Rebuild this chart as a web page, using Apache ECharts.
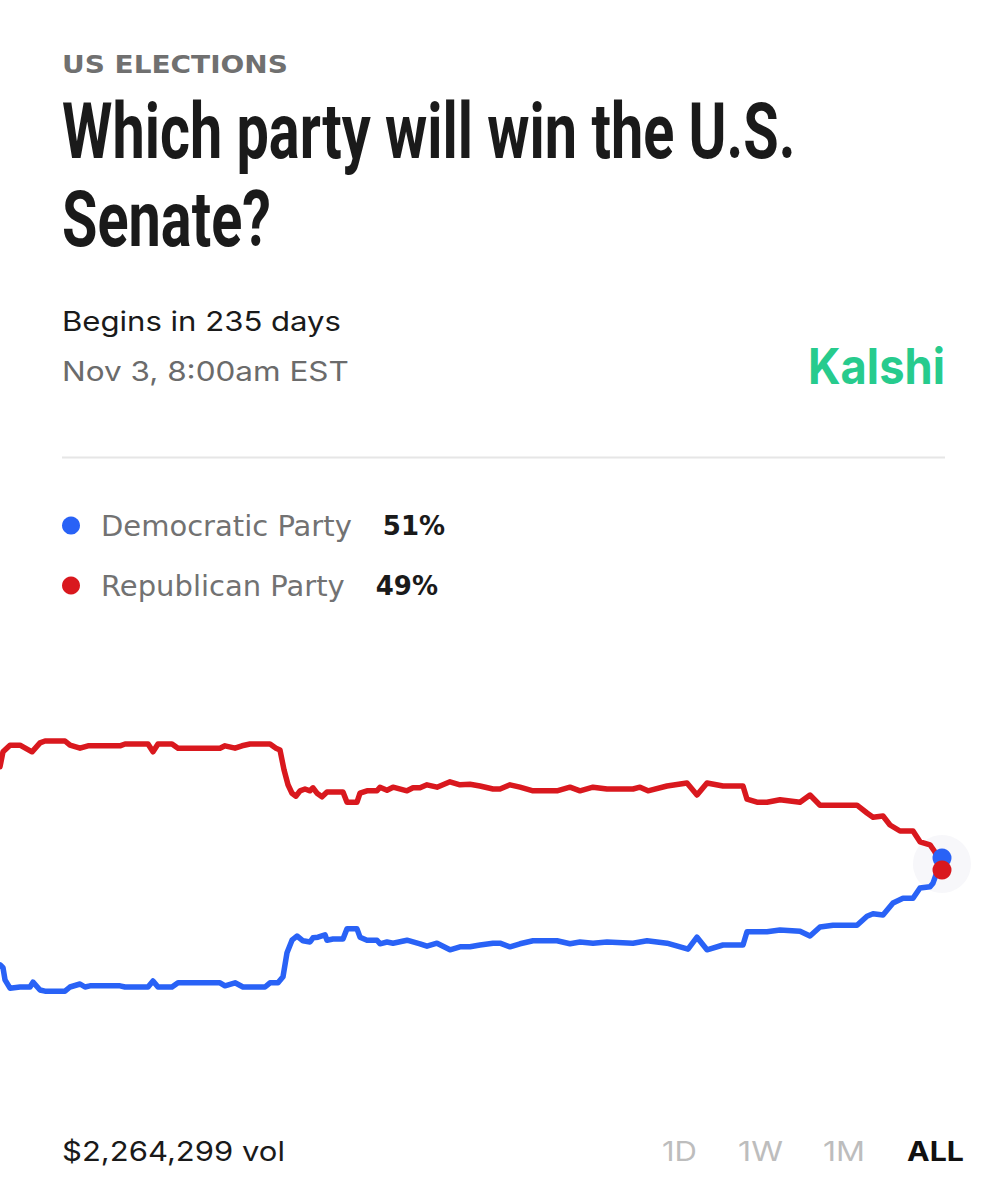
<!DOCTYPE html>
<html>
<head>
<meta charset="utf-8">
<script src="https://cdn.jsdelivr.net/npm/echarts@6/dist/echarts.min.js"></script>
<style>
  html, body { margin: 0; padding: 0; background: #ffffff; }
  #chart { width: 1006px; height: 1200px; }
</style>
</head>
<body>
<div id="chart"></div>
<script>
// ---- Data ----
const seriesNames = ['Democratic Party', 'Republican Party'];

const repTime = [0, 3, 10, 20, 32, 40, 45, 65, 70, 80, 88, 120, 125, 148, 153, 158, 172, 178, 220, 225, 235, 242, 250, 270, 276, 280, 284, 288, 292, 296, 300, 305, 310, 313, 317, 322, 327, 333, 343, 347, 357, 360, 367, 377, 380, 387, 393, 407, 413, 420, 427, 437, 450, 460, 470, 480, 493, 500, 510, 520, 533, 557, 570, 580, 593, 607, 633, 640, 648, 667, 687, 697, 707, 723, 743, 747, 757, 767, 780, 800, 810, 820, 833, 857, 867, 873, 883, 890, 900, 913, 920, 930, 935, 942];
const repPct = [66.2, 68.7, 69.8, 69.8, 68.7, 70.2, 70.5, 70.5, 69.8, 69.3, 69.7, 69.7, 70.0, 70.0, 68.7, 70.0, 70.0, 69.3, 69.3, 69.7, 69.3, 69.7, 70.0, 70.0, 69.3, 69.0, 65.7, 63.2, 61.8, 61.3, 62.2, 62.5, 62.2, 62.7, 61.8, 61.2, 62.0, 62.0, 62.0, 60.3, 60.3, 61.8, 62.2, 62.2, 62.8, 62.3, 62.8, 62.2, 62.7, 62.7, 63.2, 62.8, 63.7, 63.2, 63.3, 63.0, 62.5, 62.5, 63.2, 62.8, 62.2, 62.2, 62.8, 62.2, 62.8, 62.5, 62.5, 62.8, 62.2, 63.0, 63.5, 61.5, 63.5, 63.0, 63.0, 60.8, 60.3, 60.3, 60.7, 60.3, 61.5, 59.8, 59.8, 59.8, 58.5, 57.8, 58.0, 56.5, 55.5, 55.5, 53.7, 53.2, 52.0, 49.0];

const demTime = [0, 3, 5, 10, 20, 30, 33, 40, 45, 65, 70, 80, 85, 90, 120, 125, 148, 153, 158, 172, 178, 220, 225, 235, 243, 265, 270, 278, 283, 287, 292, 297, 303, 310, 313, 318, 325, 327, 333, 343, 347, 357, 360, 367, 377, 380, 387, 393, 407, 420, 427, 437, 450, 460, 470, 480, 493, 500, 510, 520, 533, 557, 570, 580, 593, 607, 633, 647, 667, 688, 697, 707, 723, 743, 747, 767, 780, 800, 810, 820, 833, 857, 867, 873, 883, 893, 903, 913, 920, 930, 933, 942];
const demPct = [33.2, 32.7, 30.7, 29.3, 29.5, 29.5, 30.3, 29.0, 28.8, 28.8, 29.5, 30.0, 29.5, 29.7, 29.7, 29.5, 29.5, 30.5, 29.5, 29.5, 30.2, 30.2, 29.7, 30.2, 29.5, 29.5, 30.2, 30.2, 31.2, 35.2, 37.3, 38.0, 37.2, 37.0, 37.7, 37.8, 38.2, 37.3, 37.5, 37.5, 39.2, 39.2, 37.8, 37.3, 37.3, 36.7, 37.0, 36.8, 37.3, 36.7, 36.3, 36.8, 35.7, 36.2, 36.2, 36.5, 36.8, 36.8, 36.2, 36.7, 37.2, 37.2, 36.7, 37.0, 36.8, 37.0, 36.8, 37.2, 36.8, 35.8, 37.8, 35.7, 36.5, 36.5, 38.7, 38.7, 39.0, 38.8, 38.0, 39.5, 39.8, 39.8, 41.3, 41.7, 41.5, 43.5, 44.3, 44.3, 46.0, 46.2, 46.8, 51.0];

const volumeText = '$2,264,299 vol';
const rangeTabs = ['1D', '1W', '1M', 'ALL'];

// ---- Styles ----
const BLUE = '#2962f6';
const RED = '#d9181e';
const GREEN = '#27cb8d';

function fit(text, font, targetWidth) {
  const ctx = document.createElement('canvas').getContext('2d');
  ctx.font = font;
  return targetWidth / ctx.measureText(text).width;
}
function txt(text, x, y, font, fill, width, align) {
  const s = width ? fit(text, font, width) : 1;
  return {
    type: 'text', x: x, y: y, scaleX: s, scaleY: 1,
    style: { text: text, font: font, fill: fill,
             align: align || 'left', textAlign: align || 'left',
             verticalAlign: 'middle', textVerticalAlign: 'middle' }
  };
}

const demLast = demPct[demPct.length - 1];
const repLast = repPct[repPct.length - 1];
const lastPct = { 'Democratic Party': Math.round(demLast), 'Republican Party': Math.round(repLast) };

const titleFont = 'bold 77px Roboto';
const titleScale = fit('Which party will win the U.S.', titleFont, 733);

const chart = echarts.init(document.getElementById('chart'), null, { renderer: 'svg', width: 1006, height: 1200 });

const tabFont = '27px Inter';
const tabFontBold = 'bold 27px Inter';

chart.setOption({
  animation: false,
  backgroundColor: '#ffffff',
  grid: { left: 0, right: 64, top: 684, height: 360, containLabel: false },
  xAxis: {
    type: 'value', min: 0, max: 942,
    axisLine: { show: false }, axisTick: { show: false },
    axisLabel: { show: false }, splitLine: { show: false }
  },
  yAxis: {
    type: 'value', min: 20, max: 80,
    axisLine: { show: false }, axisTick: { show: false },
    axisLabel: { show: false }, splitLine: { show: false }
  },
  legend: {
    orient: 'vertical', left: 62, top: 511, padding: 0,
    itemWidth: 18, itemHeight: 18, itemGap: 31,
    icon: 'circle', selectedMode: false,
    data: seriesNames,
    formatter: function (name) { return '{n|' + name + '}{p|' + lastPct[name] + '%}'; },
    textStyle: {
      rich: {
        n: { fontFamily: 'DejaVu Sans', fontSize: 29, color: '#727272', lineHeight: 32, padding: [0, 0, 0, 16] },
        p: { fontFamily: 'DejaVu Sans', fontSize: 26, fontWeight: 'bold', color: '#1a1a1a', lineHeight: 32, padding: [0, 0, 0, 31] }
      }
    }
  },
  series: [
    {
      name: 'halo', type: 'scatter', z: 1, silent: true,
      data: [[demTime[demTime.length - 1], (demLast + repLast) / 2]],
      symbolSize: 58, itemStyle: { color: 'rgba(170,170,200,0.09)', opacity: 1 }
    },
    {
      name: 'Democratic Party', type: 'line', z: 3,
      data: demTime.map((t, i) => [t, demPct[i]]),
      showSymbol: false, symbol: 'none',
      lineStyle: { width: 5.5, color: BLUE, cap: 'round', join: 'round' },
      itemStyle: { color: BLUE }
    },
    {
      name: 'Republican Party', type: 'line', z: 3,
      data: repTime.map((t, i) => [t, repPct[i]]),
      showSymbol: false, symbol: 'none',
      lineStyle: { width: 5.5, color: RED, cap: 'round', join: 'round' },
      itemStyle: { color: RED }
    },
    {
      name: 'demEnd', type: 'scatter', z: 4,
      data: [[demTime[demTime.length - 1], demLast]],
      symbolSize: 19, itemStyle: { color: BLUE, opacity: 1 }
    },
    {
      name: 'repEnd', type: 'scatter', z: 5,
      data: [[repTime[repTime.length - 1], repLast]],
      symbolSize: 19, itemStyle: { color: RED, opacity: 1 }
    }
  ],
  graphic: [
    txt('US ELECTIONS', 62, 64, 'bold 25px "DejaVu Sans"', '#707070', 226),
    {
      type: 'text', x: 62, y: 132, scaleX: titleScale,
      style: { text: 'Which party will win the U.S.', font: titleFont, fill: '#1a1a1a', verticalAlign: 'middle', textVerticalAlign: 'middle' }
    },
    {
      type: 'text', x: 62, y: 220, scaleX: titleScale,
      style: { text: 'Senate?', font: titleFont, fill: '#1a1a1a', verticalAlign: 'middle', textVerticalAlign: 'middle' }
    },
    txt('Begins in 235 days', 62, 321, '27px Inter', '#1a1a1a', 279),
    txt('Nov 3, 8:00am EST', 62, 371, '27px Inter', '#6b6b6b', 287),
    txt('Kalshi', 808, 366, 'bold 50px Inter', GREEN, 137),
    {
      type: 'line', shape: { x1: 62, y1: 457.5, x2: 945, y2: 457.5 },
      style: { stroke: '#e6e6e6', lineWidth: 2 }
    },
    txt(volumeText, 62, 1151, '27px Inter', '#1a1a1a', 223),
    txt(rangeTabs[0], 662, 1151, tabFont, '#bdbdbd', 35),
    txt(rangeTabs[1], 738, 1151, tabFont, '#bdbdbd', 45),
    txt(rangeTabs[2], 823, 1151, tabFont, '#bdbdbd', 42),
    txt(rangeTabs[3], 907, 1151, tabFontBold, '#111111', 57)
  ]
});
</script>
</body>
</html>
